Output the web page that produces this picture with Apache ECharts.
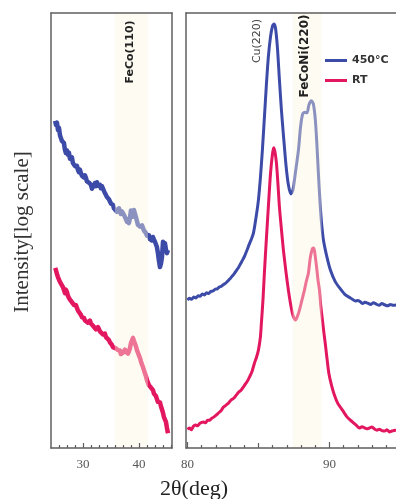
<!DOCTYPE html>
<html>
<head>
<meta charset="utf-8">
<script src="https://cdn.jsdelivr.net/npm/echarts@6/dist/echarts.min.js"></script>
<style>
  html, body { margin: 0; padding: 0; background: #fff; }
  #chart { width: 396px; height: 499px; }
</style>
</head>
<body>
<div id="chart"></div>
<script>
// 2θ windows of the two panels and their tick positions
const lowRange = [24.3, 45.9];
const highRange = [79.9, 94.69];
const lowMajorTicks = [30, 40];
const lowMinorTicks = [25.71, 27.14, 28.57, 31.43, 32.86, 34.29, 35.71, 37.14, 38.57, 41.43, 42.86, 44.29, 45.71];
const highMajorTicks = [80, 90];
const highMidTicks = [85];
const highMinorTicks = [81, 82, 83, 84, 86, 87, 88, 89, 91, 92, 93, 94];

// highlighted reflection windows (2θ)
const fecoBand = [35.7, 41.6];
const feconiBand = [87.4, 89.45];

const seriesNames = ['450°C', 'RT'];

// log intensity (arbitrary units) vs 2θ, low-angle window
const hotLow = [
  [25.05,75.2],[25.18,74.3],[25.36,74.8],[25.54,73.1],[25.72,73.6],[25.90,71.9],[26.07,72.0],[26.25,70.6],
  [26.43,70.3],[26.61,70.1],[26.78,68.6],[26.96,67.8],[27.14,68.4],[27.32,67.4],[27.50,67.9],[27.68,66.5],
  [27.86,66.2],[28.04,66.8],[28.21,65.5],[28.39,65.7],[28.57,64.8],[28.75,64.4],[28.93,64.9],[29.11,63.9],
  [29.29,63.4],[29.46,64.0],[29.64,63.2],[29.82,62.6],[30.00,62.8],[30.18,62.2],[30.36,62.7],[30.54,62.1],
  [30.71,61.3],[30.89,61.6],[31.07,61.0],[31.25,61.4],[31.43,60.5],[31.61,59.6],[31.79,59.3],[31.96,60.4],
  [32.14,60.9],[32.32,60.2],[32.50,61.1],[32.68,60.3],[32.86,60.7],[33.04,60.5],[33.21,59.7],[33.39,60.2],
  [33.57,60.0],[33.75,59.1],[33.93,58.6],[34.11,58.9],[34.29,57.7],[34.46,57.9],[34.64,57.2],[34.82,57.0],
  [35.00,56.2],[35.18,56.5],[35.36,55.9],[35.54,55.1],[35.71,54.7],[35.89,55.0],[36.07,54.3],[36.25,54.4],
  [36.43,55.1],[36.61,54.7],[36.78,53.8],[36.96,54.4],[37.14,54.0],[37.32,53.6],[37.50,53.1],[37.68,52.6],
  [37.86,52.0],[38.04,52.5],[38.21,51.7],[38.39,52.8],[38.57,54.6],[38.75,54.3],[38.93,53.2],[39.11,54.7],
  [39.29,53.9],[39.46,53.1],[39.64,52.2],[39.82,51.3],[40.00,51.6],[40.18,50.9],[40.36,50.8],[40.54,51.2],
  [40.71,50.6],[40.89,50.0],[41.07,49.7],[41.25,49.4],[41.43,48.8],[41.61,48.5],[41.79,48.9],[41.96,48.0],
  [42.14,48.3],[42.32,47.7],[42.50,48.5],[42.68,47.9],[42.86,47.4],[43.04,47.4],[43.21,46.2],[43.39,44.8],
  [43.57,43.0],[43.75,41.6],[43.93,42.4],[44.11,43.9],[44.29,47.4],[44.46,46.3],[44.64,47.1],[44.82,45.6],
  [45.00,44.8],[45.18,45.5]
];
const rtLow = [
  [25.05,41.4],[25.18,40.9],[25.36,40.0],[25.54,39.3],[25.72,39.6],[25.90,38.2],[26.07,37.9],[26.25,38.1],
  [26.43,37.0],[26.61,36.3],[26.79,35.6],[26.96,36.4],[27.14,35.9],[27.32,35.0],[27.50,34.5],[27.68,34.9],
  [27.86,33.8],[28.04,33.6],[28.21,33.9],[28.39,32.9],[28.57,32.5],[28.75,32.9],[28.93,32.2],[29.11,31.6],
  [29.29,31.7],[29.46,31.2],[29.64,30.6],[29.82,30.1],[30.00,30.4],[30.18,29.9],[30.36,29.3],[30.54,29.7],
  [30.71,29.4],[30.89,28.8],[31.07,28.7],[31.25,29.3],[31.43,28.6],[31.61,29.0],[31.79,28.1],[31.96,27.8],
  [32.14,27.9],[32.32,27.3],[32.50,27.1],[32.68,27.8],[32.86,27.6],[33.04,26.8],[33.21,27.0],[33.39,26.7],
  [33.57,26.1],[33.75,26.0],[33.93,26.3],[34.11,25.5],[34.29,25.3],[34.46,25.6],[34.64,24.8],[34.82,24.3],
  [35.00,24.5],[35.18,23.7],[35.36,23.2],[35.54,23.0],[35.71,23.5],[35.89,22.9],[36.07,23.2],[36.25,22.5],
  [36.43,22.1],[36.61,22.4],[36.78,21.6],[36.96,21.4],[37.14,21.9],[37.32,22.1],[37.50,22.6],[37.68,22.1],
  [37.86,22.5],[38.04,21.7],[38.21,21.8],[38.39,22.9],[38.57,24.1],[38.75,24.7],[38.93,25.3],[39.11,24.6],
  [39.29,24.4],[39.46,23.4],[39.64,22.5],[39.82,21.9],[40.00,21.3],[40.18,20.7],[40.36,19.9],[40.54,19.2],
  [40.71,18.6],[40.89,17.9],[41.07,17.2],[41.25,16.5],[41.43,15.6],[41.61,15.2],[41.79,14.4],[41.96,14.0],
  [42.14,13.9],[42.32,13.5],[42.50,13.3],[42.68,12.5],[42.86,12.6],[43.04,11.9],[43.21,11.5],[43.39,10.6],
  [43.57,10.3],[43.75,10.5],[43.93,9.6],[44.11,9.2],[44.29,8.1],[44.46,7.1],[44.64,6.8],[44.82,6.0],
  [45.00,4.6],[45.18,3.4]
];

// log intensity (arbitrary units) vs 2θ, high-angle window
const hotHigh = [
  [80.00,34.0],[80.15,34.4],[80.30,34.2],[80.45,34.7],[80.60,34.5],[80.75,35.0],[80.90,34.9],[81.05,35.4],
  [81.20,35.2],[81.35,35.7],[81.50,35.5],[81.65,36.0],[81.80,36.1],[81.95,36.5],[82.10,36.6],[82.25,37.0],
  [82.40,37.2],[82.55,37.6],[82.70,37.9],[82.85,38.4],[83.00,38.9],[83.15,39.5],[83.30,40.1],[83.45,40.8],
  [83.60,41.5],[83.75,42.4],[83.90,43.3],[84.05,44.3],[84.20,45.5],[84.35,46.8],[84.50,48.0],[84.65,49.4],
  [84.86,53.6],[85.00,57.0],[85.14,62.1],[85.28,68.5],[85.42,75.9],[85.56,83.4],[85.70,89.9],[85.85,94.5],
  [85.99,97.0],[86.09,97.5],[86.20,96.6],[86.34,92.0],[86.48,84.6],[86.62,77.7],[86.76,72.0],[86.94,65.1],
  [87.11,60.5],[87.29,58.4],[87.43,59.3],[87.61,63.4],[87.82,68.5],[87.96,73.6],[88.10,76.6],[88.24,77.2],
  [88.42,77.0],[88.56,78.9],[88.73,79.8],[88.87,79.1],[89.01,75.4],[89.12,69.7],[89.23,62.8],[89.33,57.0],
  [89.44,52.0],[89.58,47.8],[89.79,44.4],[90.07,40.9],[90.42,38.2],[90.77,36.6],[91.13,35.2],[91.48,34.5],
  [91.83,33.8],[92.00,33.9],[92.18,33.6],[92.35,33.2],[92.50,33.5],[92.70,33.3],[92.90,33.0],[93.10,33.4],
  [93.30,33.1],[93.50,32.8],[93.70,33.2],[93.90,32.9],[94.10,32.7],[94.30,33.0],[94.50,32.8],[94.70,32.9]
];
const rtHigh = [
  [80.00,4.3],[80.14,4.6],[80.28,4.2],[80.42,5.0],[80.57,5.3],[80.71,5.1],[80.85,5.6],[81.00,5.9],
  [81.13,6.0],[81.28,5.8],[81.42,6.4],[81.55,6.4],[81.70,6.8],[81.85,7.1],[82.04,7.6],[82.20,8.1],
  [82.35,8.5],[82.54,9.4],[82.70,9.8],[82.85,10.2],[82.96,10.6],[83.10,11.1],[83.28,11.5],[83.45,12.2],
  [83.60,12.8],[83.78,13.3],[83.94,14.0],[84.10,14.8],[84.25,15.5],[84.37,16.3],[84.55,17.6],[84.72,19.5],
  [84.86,20.8],[85.00,22.5],[85.14,25.5],[85.21,28.7],[85.32,34.0],[85.42,40.2],[85.56,48.0],[85.70,55.4],
  [85.85,63.0],[85.99,67.6],[86.08,69.0],[86.17,68.0],[86.27,65.5],[86.38,60.5],[86.48,55.4],[86.62,50.3],
  [86.76,45.5],[86.94,40.5],[87.11,36.3],[87.25,33.4],[87.39,31.0],[87.50,29.9],[87.61,29.4],[87.75,30.3],
  [87.89,31.7],[88.05,33.8],[88.24,36.3],[88.38,38.4],[88.52,40.2],[88.66,43.9],[88.80,45.8],[88.87,46.0],
  [88.94,45.5],[89.01,43.9],[89.10,41.5],[89.20,38.5],[89.30,36.3],[89.40,32.5],[89.51,29.4],[89.62,26.3],
  [89.72,23.7],[89.84,20.3],[89.96,17.2],[90.15,14.4],[90.35,12.2],[90.60,10.2],[90.92,8.7],[91.25,7.1],
  [91.62,6.0],[91.90,5.2],[92.11,4.6],[92.30,4.9],[92.50,4.6],[92.70,4.4],[92.82,4.6],[93.00,4.8],
  [93.20,4.3],[93.35,4.1],[93.52,4.3],[93.70,4.0],[93.90,3.9],[94.05,4.2],[94.23,3.7],[94.40,3.9],
  [94.60,4.1],[94.70,3.9]
];

const BLUE = '#3d4ba8';
const PINK = '#e3175f';
const FRAME = '#5f5f5f';
const SERIF = '"Liberation Serif", "DejaVu Serif", serif';
const SANS = '"DejaVu Sans", sans-serif';

// bottom axis carrying one tick family; the first one of a panel also draws the frame edge
function tickAxis(grid, range, ticks, len, labelled, withLine) {
  return {
    type: 'value', gridIndex: grid, position: 'bottom', min: range[0], max: range[1], z: 20,
    axisLine: { show: !!withLine, lineStyle: { color: FRAME, width: 1.5 } },
    splitLine: { show: false },
    axisTick: { show: true, inside: true, length: len, customValues: ticks,
                lineStyle: { color: FRAME, width: 1.2 } },
    axisLabel: labelled
      ? { show: true, customValues: ticks, margin: 10, color: '#555',
          fontFamily: SERIF, fontSize: 13 }
      : { show: false }
  };
}

// plain frame edge (no ticks, no labels)
function edgeAxis(grid, position, range) {
  return {
    type: 'value', gridIndex: grid, position: position, min: range[0], max: range[1], z: 20,
    axisLine: { show: true, onZero: false, lineStyle: { color: FRAME, width: 1.5 } },
    axisTick: { show: false }, axisLabel: { show: false }, splitLine: { show: false }
  };
}

function bandSeries(band, xi, yi) {
  return {
    type: 'custom', xAxisIndex: xi, yAxisIndex: yi, z: 10, silent: true,
    data: [band],
    renderItem: function (params, api) {
      const a = api.coord([api.value(0), 100]);
      const b = api.coord([api.value(1), 0]);
      return {
        type: 'rect',
        shape: { x: a[0], y: a[1], width: b[0] - a[0], height: b[1] - a[1] },
        style: { fill: 'rgba(251,245,225,0.42)' }
      };
    }
  };
}

function curve(name, data, color, width, xi, yi, smooth) {
  return {
    name: name, type: 'line', data: data, xAxisIndex: xi, yAxisIndex: yi,
    showSymbol: false, symbol: 'none', smooth: smooth, z: 2,
    lineStyle: { color: color, width: width, join: 'round' },
    itemStyle: { color: color },
    animation: false
  };
}

const chart = echarts.init(document.getElementById('chart'), null, { renderer: 'canvas' });

chart.setOption({
  animation: false,
  backgroundColor: '#ffffff',
  grid: [
    { left: 51, top: 13, width: 121, height: 435, show: false },
    { left: 186, top: 13, width: 210, height: 435, show: false }
  ],
  xAxis: [
    tickAxis(0, lowRange, lowMajorTicks, 5, true, true),
    tickAxis(0, lowRange, lowMinorTicks, 3, false, false),
    edgeAxis(0, 'top', lowRange),
    tickAxis(1, highRange, highMajorTicks, 6, true, true),
    tickAxis(1, highRange, highMidTicks, 5, false, false),
    tickAxis(1, highRange, highMinorTicks, 3, false, false),
    edgeAxis(1, 'top', highRange)
  ],
  yAxis: [
    edgeAxis(0, 'left', [0, 100]),
    edgeAxis(0, 'right', [0, 100]),
    edgeAxis(1, 'left', [0, 100])
  ],
  legend: {
    data: seriesNames, orient: 'vertical', left: 320, top: 50,
    icon: 'rect', itemWidth: 22, itemHeight: 3, itemGap: 9,
    textStyle: { fontFamily: SANS, fontSize: 11, fontWeight: 'bold', color: '#333' }
  },
  series: [
    curve(seriesNames[0], hotLow, BLUE, 4.5, 0, 0, false),
    curve(seriesNames[1], rtLow, PINK, 4.5, 0, 0, false),
    curve(seriesNames[0], hotHigh, BLUE, 3, 3, 2, 0.25),
    curve(seriesNames[1], rtHigh, PINK, 3, 3, 2, 0.25),
    bandSeries(fecoBand, 0, 0),
    bandSeries(feconiBand, 3, 2)
  ],
  graphic: [
    { type: 'text', x: 22, y: 232, rotation: Math.PI / 2, z: 100,
      style: { text: 'Intensity[log scale]', font: '21px ' + SERIF, fill: '#333', align: 'center', verticalAlign: 'middle' } },
    { type: 'text', x: 194, y: 489, z: 100,
      style: { text: '2θ(deg)', font: '22px ' + SERIF, fill: '#222', align: 'center', verticalAlign: 'middle' } },
    { type: 'text', x: 130, y: 52, rotation: Math.PI / 2, z: 100,
      style: { text: 'FeCo(110)', font: 'bold 11px ' + SANS, fill: '#222', align: 'center', verticalAlign: 'middle' } },
    { type: 'text', x: 257, y: 41, rotation: Math.PI / 2, z: 100,
      style: { text: 'Cu(220)', font: '11px ' + SANS, fill: '#444', align: 'center', verticalAlign: 'middle' } },
    { type: 'text', x: 305, y: 56, rotation: Math.PI / 2, z: 100,
      style: { text: 'FeCoNi(220)', font: 'bold 12px ' + SANS, fill: '#222', align: 'center', verticalAlign: 'middle' } }
  ]
});
</script>
</body>
</html>
